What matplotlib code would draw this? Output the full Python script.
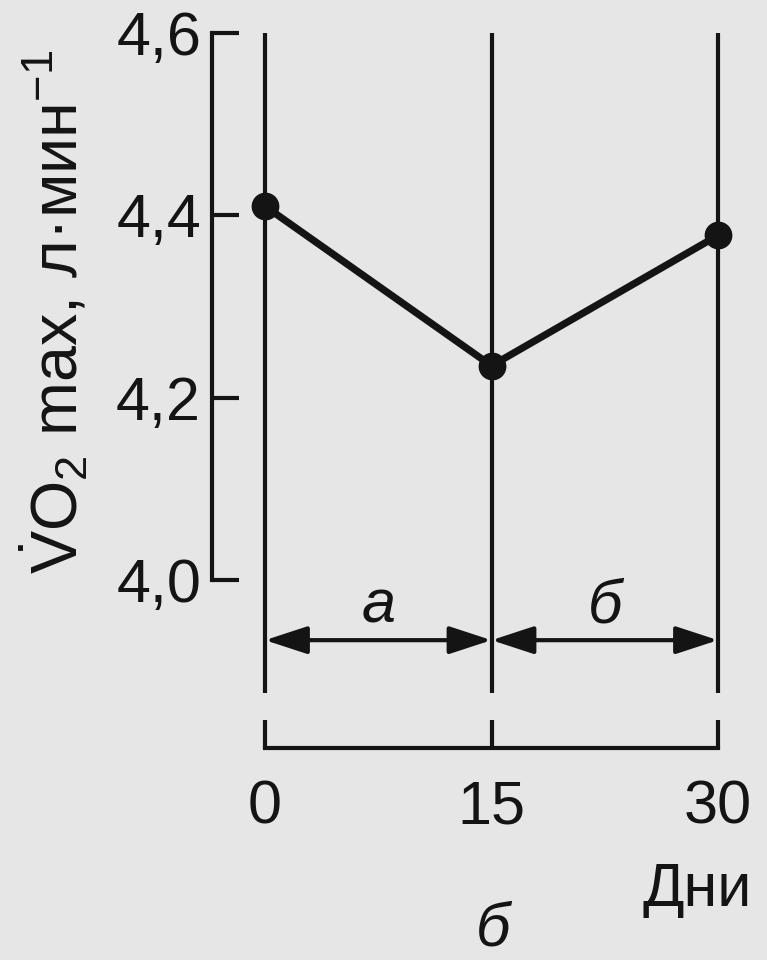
import numpy as np
import matplotlib.pyplot as plt

# values
days = [0, 15, 30]
vo2max = [4.41, 4.235, 4.378]
y_ticks = [4.0, 4.2, 4.4, 4.6]
y_tick_labels = ['4,0', '4,2', '4,4', '4,6']
x_tick_labels = ['0', '15', '30']
period_labels = ['а', 'б']

BG = '#e6e6e6'
INK = '#141414'

plt.rcParams['font.family'] = ['Liberation Sans', 'DejaVu Sans']
plt.rcParams['mathtext.fontset'] = 'custom'
plt.rcParams['mathtext.rm'] = 'Liberation Sans'
plt.rcParams['mathtext.it'] = 'Liberation Sans:italic'

fig = plt.figure(figsize=(7.67, 9.6), dpi=100, facecolor=BG)
ax = fig.add_axes([265 / 767, 380 / 960, 453 / 767, 547 / 960])
ax.patch.set_alpha(0)
ax.set_xlim(0, 30)
ax.set_ylim(4.0, 4.6)

# spines: y axis bracket on the left, day bracket underneath
ax.spines[['top', 'right']].set_visible(False)
ax.spines['left'].set_position(('outward', 38))
ax.spines['bottom'].set_position(('outward', 121))
for s in ['left', 'bottom']:
    ax.spines[s].set_linewidth(3)
    ax.spines[s].set_color(INK)

ax.set_yticks(y_ticks, y_tick_labels)
ax.set_xticks(days, x_tick_labels)
ax.tick_params(axis='y', direction='in', length=19.5, width=3, pad=8,
               labelsize=44, colors=INK)
ax.tick_params(axis='x', direction='in', length=20, width=3, pad=23,
               labelsize=44, colors=INK)

# vertical day lines
ax.vlines(days, 3.876, 4.6, colors=INK, linewidth=3, clip_on=False)

# data
ax.plot(days, vo2max, color=INK, linewidth=5.2, marker='o', markersize=19,
        clip_on=False, zorder=5)

# period arrows
for i, lab in enumerate(period_labels):
    ax.annotate('', xy=(days[i + 1], 3.934), xytext=(days[i], 3.934),
                arrowprops=dict(arrowstyle='<|-|>,head_length=2.6,head_width=0.85',
                                color=INK, lw=3, shrinkA=0, shrinkB=0,
                                mutation_scale=10),
                annotation_clip=False)
    ax.text((days[i] + days[i + 1]) / 2, 3.97, lab, fontsize=44,
            style='italic', ha='center', va='center', color=INK)

ax.set_ylabel(r'$\dot{\mathrm{V}}\mathrm{O}_2$ max, л·мин$^{-1}$',
              fontsize=46.5, color=INK, va='center')
ax.yaxis.set_label_coords(-0.465, 0.49)
ax.set_xlabel('Дни', fontsize=44, color=INK, va='center')
ax.xaxis.set_label_coords(0.954, -0.567)

fig.text(493 / 767, 1 - 930 / 960, 'б', fontsize=44, style='italic',
         ha='center', va='center', color=INK)

fig.savefig('out.png', dpi=100, facecolor=BG)
